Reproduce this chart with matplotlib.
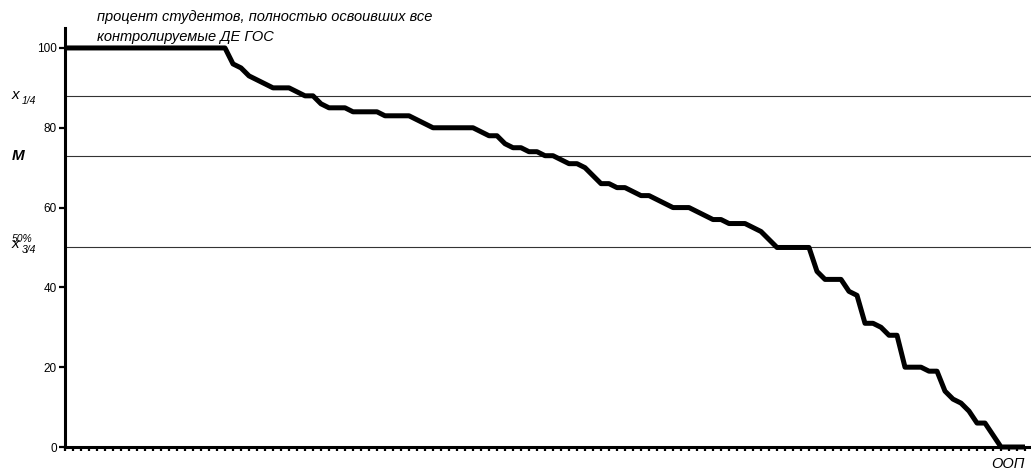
# -*- coding: utf-8 -*-
import numpy as np
from matplotlib import pyplot as plt, rcParams, ticker

rcParams.update({'font.family': ['Liberation Sans', 'DejaVu Sans'],
                 'font.size': 8.5})

# Процент освоения по каждому студенту (упорядочено по убыванию)
percent = [100] * 21 + [
    96, 95, 93, 92, 91, 90, 90, 90, 89, 88, 88, 86, 85, 85, 85,
    84, 84, 84, 84, 83, 83, 83, 83, 82, 81, 80, 80, 80, 80, 80, 80,
    79, 78, 78, 76, 75, 75, 74, 74, 73, 73, 72, 71, 71, 70,
    68, 66, 66, 65, 65, 64, 63, 63, 62, 61, 60, 60, 60, 59, 58,
    57, 57, 56, 56, 56, 55, 54, 52, 50, 50, 50, 50, 50,
    44, 42, 42, 42, 39, 38, 31, 31, 30, 28, 28, 20, 20, 20, 19, 19,
    14, 12, 11, 9, 6, 6, 3, 0, 0, 0, 0]
students = np.arange(len(percent))

# уровни: x_1/4, M, x_3/4 (50%)
q_upper = 88
mean_level = 73
q_lower = 50

fig = plt.figure(figsize=(10.31, 4.72), dpi=100)
ax = fig.add_axes((65 / 1031, 25 / 472, 966 / 1031, 419 / 472))

for lvl in (q_upper, mean_level, q_lower):
    ax.axhline(lvl, color='#333333', lw=0.8, zorder=1)

ax.plot(students, percent, color='k', lw=3.6, solid_joinstyle='round',
        solid_capstyle='butt', zorder=3, clip_on=False)

ax.set_xlim(0, 120.75)
ax.set_ylim(0, 105)
ax.yaxis.set_major_locator(ticker.FixedLocator([0, 20, 40, 60, 80, 100]))
ax.xaxis.set_major_locator(ticker.MultipleLocator(1))
ax.set_xticklabels([])
ax.tick_params(axis='x', direction='out', length=3, width=1.6, color='k')
ax.tick_params(axis='y', direction='out', length=4, width=1.6, color='k',
               pad=2, labelsize=8.5)

for side in ('top', 'right'):
    ax.spines[side].set_visible(False)
for side in ('left', 'bottom'):
    ax.spines[side].set_linewidth(2.2)
    ax.spines[side].set_color('k')

# подписи уровней слева
fig.text(12 / 1031, 1 - 99 / 472, 'x', style='italic', fontsize=11,
         va='baseline')
fig.text(22 / 1031, 1 - 104 / 472, '1/4', style='italic', fontsize=7.5,
         va='baseline')
fig.text(12 / 1031, 1 - 160 / 472, 'M', style='italic', weight='bold',
         fontsize=11, va='baseline')
fig.text(12 / 1031, 1 - 242 / 472, '50%', style='italic', fontsize=7.5,
         va='baseline')
fig.text(12 / 1031, 1 - 248 / 472, 'x', style='italic', fontsize=11,
         va='baseline')
fig.text(22 / 1031, 1 - 253 / 472, '3/4', style='italic', fontsize=7.5,
         va='baseline')

# заголовок оси
fig.text(97 / 1031, 1 - 21 / 472,
         'процент студентов, полностью освоивших все',
         style='italic', fontsize=10.5, va='baseline')
fig.text(97 / 1031, 1 - 41 / 472, 'контролируемые ДЕ ГОС',
         style='italic', fontsize=10.5, va='baseline')
fig.text(1025 / 1031, 1 - 468 / 472, 'ООП', style='italic', fontsize=10.5,
         ha='right', va='baseline')

plt.savefig('out.png', dpi=100)
